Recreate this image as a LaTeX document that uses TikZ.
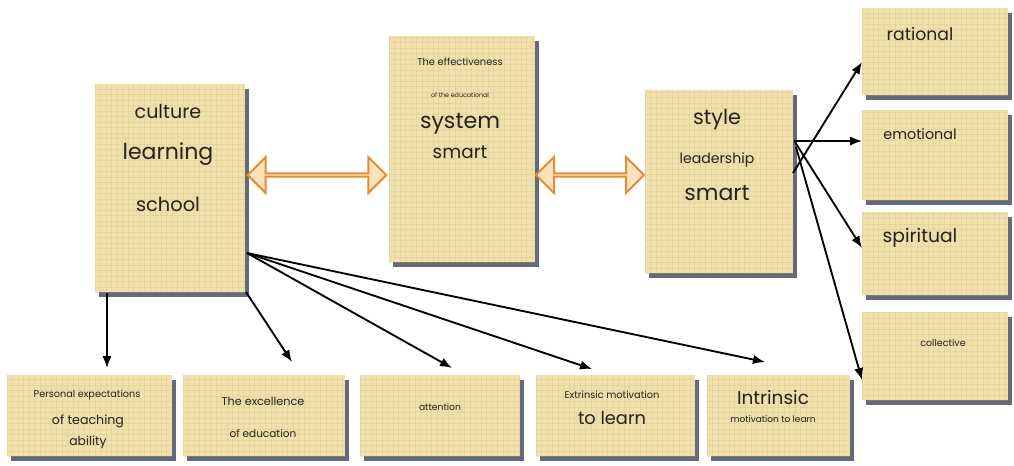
\documentclass[tikz,border=0pt]{standalone}
\usepackage{graphicx}
\usepackage{fontspec}
\setmainfont{Poppins}
\usetikzlibrary{arrows.meta,shapes.arrows,shadows,calc}
\definecolor{papyrus}{RGB}{240,224,172}
\definecolor{texcol}{RGB}{205,180,120}
\definecolor{shadowgrey}{RGB}{100,106,122}
\definecolor{arrorange}{RGB}{230,140,52}
\definecolor{arrfill}{RGB}{250,226,188}
\definecolor{inkcol}{RGB}{38,34,28}
\newcommand{\fitto}[2]{\resizebox{#1}{!}{#2}}
\tikzset{
  texture/.style={path picture={
    \foreach \k in {0,5,11,16,22,27,33,38,44,49,55,60,66,71,77,82,88,93,99,104,110,115,121,126,132,137,143,148,154,159,165,170,176,181,187,192,198,203,209,214,220,225,231} {
      \draw[texcol,opacity=0.22,line width=0.35pt] ([xshift=\k*0.75pt]path picture bounding box.south west) -- ([xshift=\k*0.75pt]path picture bounding box.north west);
      \draw[texcol,opacity=0.22,line width=0.35pt] ([yshift=\k*0.75pt]path picture bounding box.south west) -- ([yshift=\k*0.75pt]path picture bounding box.south east);
    }}},
  box/.style={rectangle, inner sep=0pt, fill=papyrus, texture,
    general shadow={fill=shadowgrey, shadow xshift=3pt, shadow yshift=-3.5pt}},
  lbl/.style={inner sep=0pt, text=inkcol},
  conn/.style={-{Latex[length=9pt,width=7pt]}, line width=1.4pt, black},
  dbl/.style={double arrow, draw=arrorange, fill=arrfill, line width=1.5pt,
    inner sep=0pt, minimum width=27pt, double arrow head extend=7.6pt},
}
\begin{document}
\begin{tikzpicture}[x=0.75pt,y=-0.75pt]
\useasboundingbox (0,0) rectangle (1014,465);
% main boxes
\node[box, minimum width=112.5pt, minimum height=156pt] (A) at (170,188) {};
\node[box, minimum width=109.5pt, minimum height=169.5pt] (B) at (462,149) {};
\node[box, minimum width=111pt, minimum height=137.25pt] (C) at (719,181.5) {};
% right boxes
\node[box, minimum width=109.5pt, minimum height=65.25pt] (R1) at (935,51.5) {};
\node[box, minimum width=109.5pt, minimum height=67.5pt] (R2) at (935,155) {};
\node[box, minimum width=109.5pt, minimum height=62.25pt] (R3) at (935,253.5) {};
\node[box, minimum width=109.5pt, minimum height=66pt] (R4) at (935,356) {};
% bottom boxes
\node[box, minimum width=123.75pt, minimum height=60.75pt] (D1) at (89.5,415.5) {};
\node[box, minimum width=121.5pt, minimum height=60.75pt] (D2) at (264,415.5) {};
\node[box, minimum width=120pt, minimum height=60.75pt] (D3) at (440,415.5) {};
\node[box, minimum width=119.25pt, minimum height=60.75pt] (D4) at (615.5,415.5) {};
\node[box, minimum width=107.25pt, minimum height=60.75pt] (D5) at (778.5,415.5) {};
% texts
\node[lbl] (a1) at (168,112) {\fitto{50pt}{culture}};
\node[lbl] (a2) at (168,154) {\fitto{68pt}{learning}};
\node[lbl] (a3) at (168,204) {\fitto{48pt}{school}};
\node[lbl] (b1) at (460,62) {\fitto{64pt}{The effectiveness}};
\node[lbl] (b2) at (460,95) {\fitto{43.5pt}{of the educational}};
\node[lbl] (b3) at (460,124) {\fitto{60pt}{system}};
\node[lbl] (b4) at (460,152) {\fitto{41pt}{smart}};
\node[lbl] (c1) at (717,119) {\fitto{36pt}{style}};
\node[lbl] (c2) at (717,160) {\fitto{56pt}{leadership}};
\node[lbl] (c3) at (717,193) {\fitto{49pt}{smart}};
\node[lbl] (r1) at (920,34) {\fitto{50pt}{rational}};
\node[lbl] (r2) at (920,134) {\fitto{55pt}{emotional}};
\node[lbl] (r3) at (920,238) {\fitto{56pt}{spiritual}};
\node[lbl] (r4) at (943,343) {\fitto{34pt}{collective}};
\node[lbl] (d1a) at (87,395) {\fitto{80pt}{Personal expectations}};
\node[lbl] (d1b) at (88,421) {\fitto{54pt}{of teaching}};
\node[lbl] (d1c) at (88,442) {\fitto{28pt}{ability}};
\node[lbl] (d2a) at (263,401) {\fitto{62pt}{The excellence}};
\node[lbl] (d2b) at (263,434) {\fitto{50pt}{of education}};
\node[lbl] (d3a) at (440,407) {\fitto{31.5pt}{attention}};
\node[lbl] (d4a) at (612,395) {\fitto{71pt}{Extrinsic motivation}};
\node[lbl] (d4b) at (612,418) {\fitto{51pt}{to learn}};
\node[lbl] (d5a) at (773,398) {\fitto{54pt}{Intrinsic}};
\node[lbl] (d5b) at (773,419) {\fitto{64pt}{motivation to learn}};
% double arrows
\node[dbl, minimum height=104pt] (AB) at ($(A.east |- 0,175)!0.5!(B.west |- 0,175)$) {};
\node[dbl, minimum height=81pt] (BC) at ($(B.east |- 0,175)!0.5!(C.west |- 0,175)$) {};
% connector end points
\coordinate (sA0) at (107,293);
\coordinate (sA1) at (246,292);
\coordinate (sA2) at (247,253);
\coordinate (tD1) at (107,368);
\coordinate (tD2) at (292,362);
\coordinate (tD3) at (452,368);
\coordinate (tD4) at (592,369);
\coordinate (tD5) at (765,362);
\coordinate (sC1) at (793,173);
\coordinate (sC2) at (794,141);
\coordinate (sC3) at (795,142);
\coordinate (sC4) at (796,147);
\coordinate (tR1) at (862,62);
\coordinate (tR2) at (862,141);
\coordinate (tR3) at (862,248);
\coordinate (tR4) at (862,380);
% connectors
\draw[conn] (sA0) -- (tD1);
\draw[conn] (sA1) -- (tD2);
\draw[conn] (sA2) -- (tD3);
\draw[conn] (sA2) -- (tD4);
\draw[conn] (sA2) -- (tD5);
\draw[conn] (sC1) -- (tR1);
\draw[conn] (sC2) -- (tR2);
\draw[conn] (sC3) -- (tR3);
\draw[conn] (sC4) -- (tR4);
\end{tikzpicture}
\end{document}
